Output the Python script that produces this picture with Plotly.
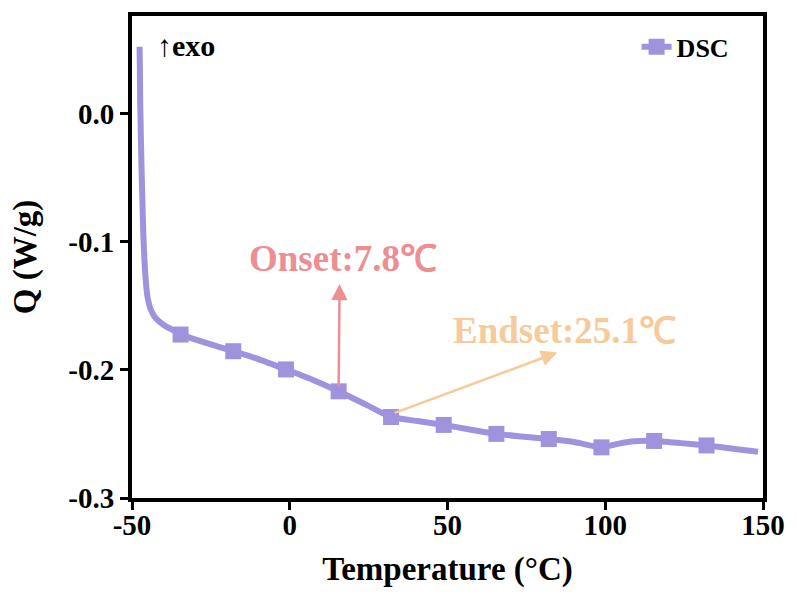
import plotly.graph_objects as go

# DSC curve (dense points along the trace)
temp = [-47.6, -47.5, -47.4, -47.0, -46.4, -45.8, -45.1, -44.2, -43.0, -41.3, -39.0, -37.0,
        -34.6, -26.5, -17.9, -9.5, -1.2, 7.0, 15.5, 24.0, 32.1, 40.5, 48.8, 57.0, 65.5,
        73.5, 82.1, 90.5, 98.8, 104.0, 109.0, 115.5, 124.0, 132.1, 140.5, 148.4]
q = [0.052, 0.035, 0.009, -0.040, -0.095, -0.125, -0.143, -0.152, -0.158, -0.1625, -0.1665, -0.169,
     -0.1725, -0.179, -0.1855, -0.192, -0.1997, -0.2075, -0.2168, -0.227, -0.2368, -0.2400, -0.2430, -0.2465, -0.2500,
     -0.2520, -0.2540, -0.2565, -0.2605, -0.2578, -0.2558, -0.2555, -0.2572, -0.2590, -0.2615, -0.2640]

# marker positions
mk_temp = [-34.6, -17.9, -1.2, 15.5, 32.1, 48.8, 65.5, 82.1, 98.8, 115.5, 132.1]
mk_q = [-0.1725, -0.1855, -0.1997, -0.2168, -0.2368, -0.2430, -0.2500, -0.2540, -0.2605, -0.2555, -0.2590]

x_ticks = [-50, 0, 50, 100, 150]
x_labels = ["-50", "0", "50", "100", "150"]
y_ticks = [-0.3, -0.2, -0.1, 0.0]
y_labels = ["-0.3", "-0.2", "-0.1", "0.0"]

onset_tail = (15.5, -0.214)
onset_head = (15.8, -0.133)
endset_tail = (32.8, -0.234)
endset_head = (84.8, -0.1865)

color = "#A192DE"
onset_color = "#EC8E92"
endset_color = "#F6CA9A"
font_family = "Liberation Serif"

fig = go.Figure()
fig.add_trace(go.Scatter(x=temp, y=q, mode="lines", line=dict(color=color, width=6, shape="spline", smoothing=0.5),
                         showlegend=False, hoverinfo="skip"))
fig.add_trace(go.Scatter(x=mk_temp, y=mk_q, mode="markers",
                         marker=dict(symbol="square", size=16, color=color), showlegend=False))
fig.add_trace(go.Scatter(x=[None], y=[None], mode="lines+markers", name="DSC",
                         line=dict(color=color, width=6),
                         marker=dict(symbol="square", size=16, color=color)))

fig.add_annotation(x=onset_head[0], y=onset_head[1], ax=onset_tail[0], ay=onset_tail[1],
                   xref="x", yref="y", axref="x", ayref="y", text="", showarrow=True,
                   arrowhead=2, arrowsize=1.3, arrowwidth=2.5, arrowcolor=onset_color)
fig.add_annotation(x=endset_head[0], y=endset_head[1], ax=endset_tail[0], ay=endset_tail[1],
                   xref="x", yref="y", axref="x", ayref="y", text="", showarrow=True,
                   arrowhead=2, arrowsize=1.3, arrowwidth=2.5, arrowcolor=endset_color)
fig.add_annotation(x=16.8, y=-0.1134, xref="x", yref="y", text="Onset:7.8℃", showarrow=False,
                   font=dict(family=font_family, size=37, color=onset_color, weight="bold"))
fig.add_annotation(x=87.2, y=-0.169, xref="x", yref="y", text="Endset:25.1℃", showarrow=False,
                   font=dict(family=font_family, size=37, color=endset_color, weight="bold"))
fig.add_annotation(x=0.036, y=0.938, xref="paper", yref="paper", xanchor="left", yanchor="middle",
                   text="↑exo", showarrow=False,
                   font=dict(family=font_family, size=30, color="black", weight="bold"))

axis_common = dict(showline=True, linewidth=4, linecolor="black", mirror=True,
                   ticks="outside", ticklen=8, tickwidth=3, tickcolor="black",
                   showgrid=False, zeroline=False,
                   tickfont=dict(family=font_family, size=29, color="black", weight="bold"))

fig.update_layout(
    width=797, height=596,
    margin=dict(l=132, r=31, t=14, b=98),
    plot_bgcolor="white", paper_bgcolor="white",
    xaxis=dict(range=[-50, 150], tickvals=x_ticks, ticktext=x_labels, ticklabelstandoff=-10,
               title=dict(text="Temperature (°C)", standoff=18,
                          font=dict(family=font_family, size=33, color="black", weight="bold")),
               **axis_common),
    yaxis=dict(range=[-0.3, 0.076], tickvals=y_ticks, ticktext=y_labels,
               title=dict(text="Q (W/g)", standoff=23,
                          font=dict(family=font_family, size=33, color="black", weight="bold")),
               **axis_common),
    legend=dict(x=0.955, y=0.985, xanchor="right", yanchor="top", bgcolor="rgba(0,0,0,0)",
                font=dict(family=font_family, size=26, color="black", weight="bold")),
)

fig.write_html("out.html")
